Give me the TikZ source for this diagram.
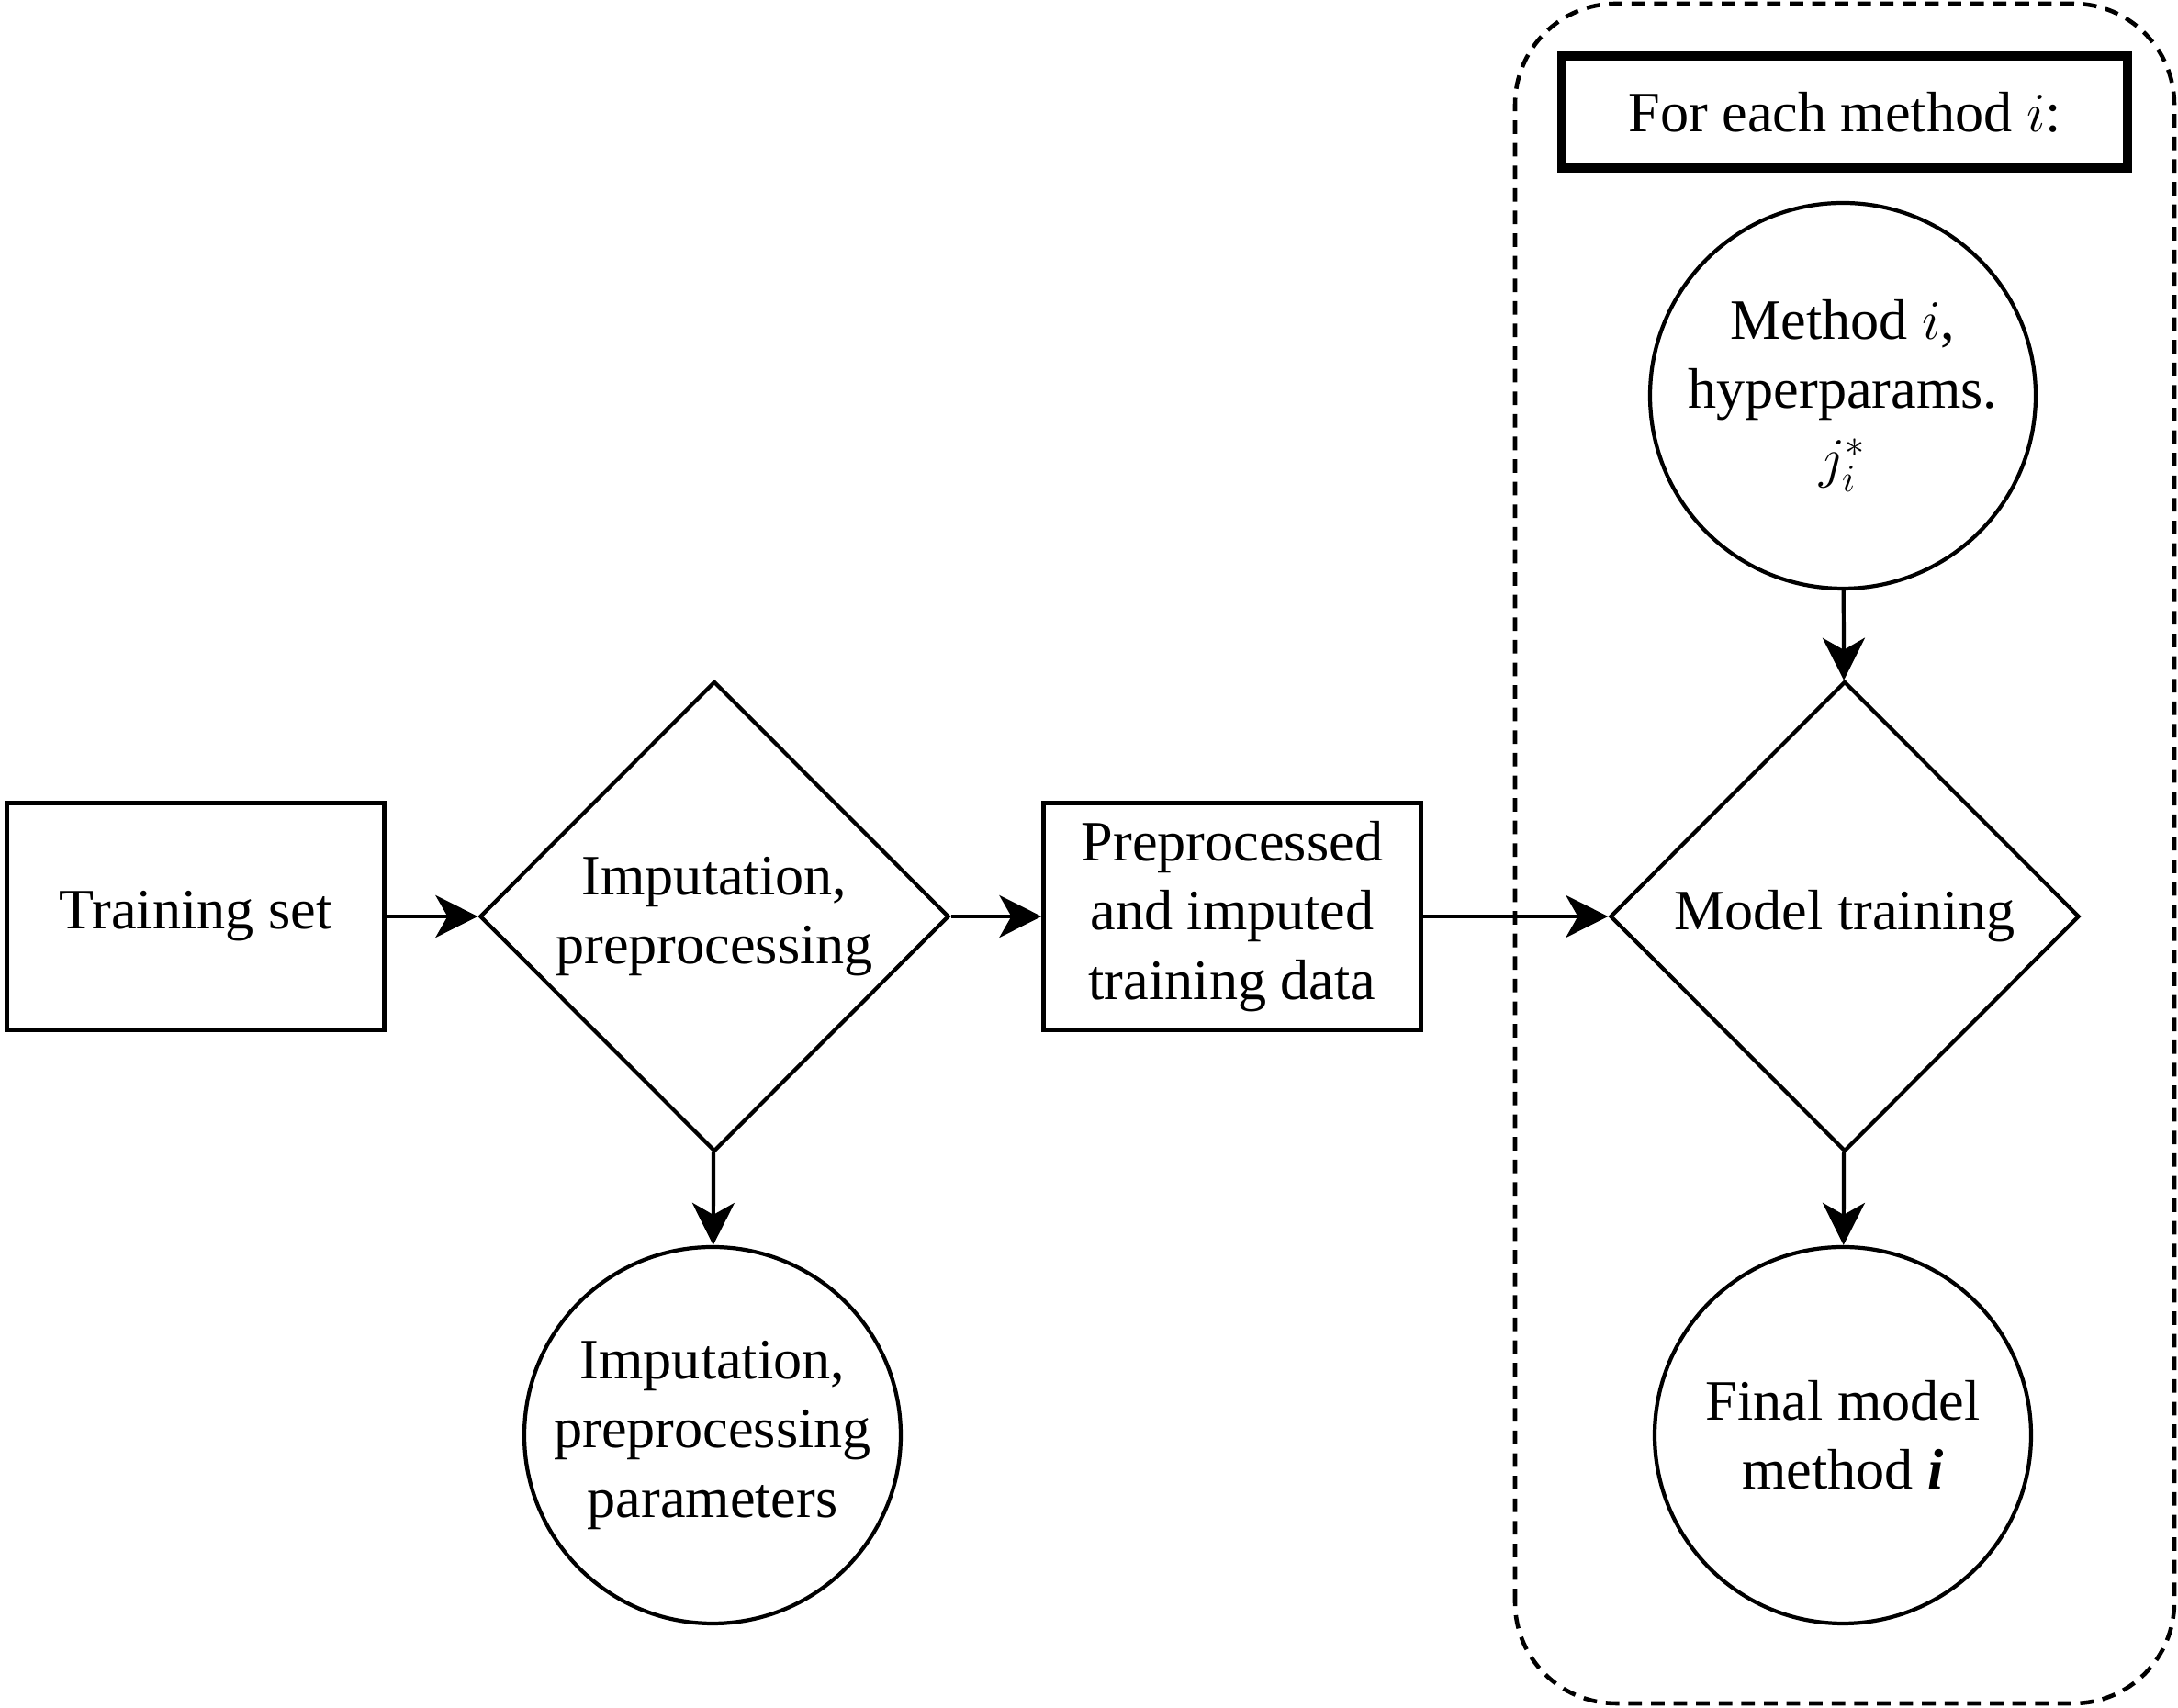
\documentclass[tikz,border=0pt]{standalone}
\usepackage{amsmath,amssymb}
\usepackage{fontspec}
\setmainfont{Liberation Serif}
\usepackage{tikz}
\usetikzlibrary{shapes.geometric, arrows.meta, positioning, calc}
\tikzstyle{arrow} = [line width=1.2pt, -{Stealth[length=0.46cm, width=0.46cm, inset=0.13cm]}]

\begin{document}
\begin{tikzpicture}[
    every node/.style={font=\fontsize{17.7}{21.4}\selectfont},
    databox/.style={rectangle, draw=black, line width=1.2pt, minimum width=4.11cm, minimum height=2.47cm, align=center},
    procdiam/.style={diamond, draw=black, line width=1.2pt, inner sep=0pt, minimum width=5.11cm, minimum height=5.12cm, align=center},
    resultcirc/.style={circle, draw=black, line width=1.2pt, inner sep=0pt, minimum size=4.1cm, align=center},
    headbox/.style={rectangle, draw=black, line width=0.1cm, minimum width=6.16cm, minimum height=1.22cm},
]
\useasboundingbox (0,0) rectangle (23.72,18.6);

% Loop frame
\draw[line width=1.3pt, dash pattern=on 4.2pt off 2.8pt, rounded corners=1.1cm] (16.50,0.05) rectangle (23.68,18.56);
\node[headbox] (foreach) at (20.09, 17.38) {For each method $i$:};

% Preprocessing chain
\node[databox] (trainset) at (2.13, 8.62) {Training set};
\node[procdiam] (impute) at (7.78, 8.62) {Imputation,\\preprocessing};
\node[databox] (prepdata) at (13.42, 8.62) {Preprocessed\\and imputed\\training data};
\node[resultcirc] (impparams) at (7.76, 2.97) {Imputation,\\preprocessing\\parameters};

% Per-method part
\node[resultcirc, minimum size=4.2cm] (hyper) at (20.07, 14.29) {Method $i$,\\hyperparams.\\$j_i^*$};
\node[procdiam] (modeltrain) at (20.09, 8.62) {Model training};
\node[resultcirc] (final) at (20.07, 2.97) {Final model\\method \textbf{\textit{i}}};

% Arrows
\draw[arrow] (trainset) -- (impute);
\draw[arrow] (impute) -- (prepdata);
\draw[arrow] (impute) -- (impparams);
\draw[arrow] (prepdata) -- (modeltrain);
\draw[arrow] (hyper) -- (modeltrain);
\draw[arrow] (modeltrain) -- (final);

\end{tikzpicture}
\end{document}
